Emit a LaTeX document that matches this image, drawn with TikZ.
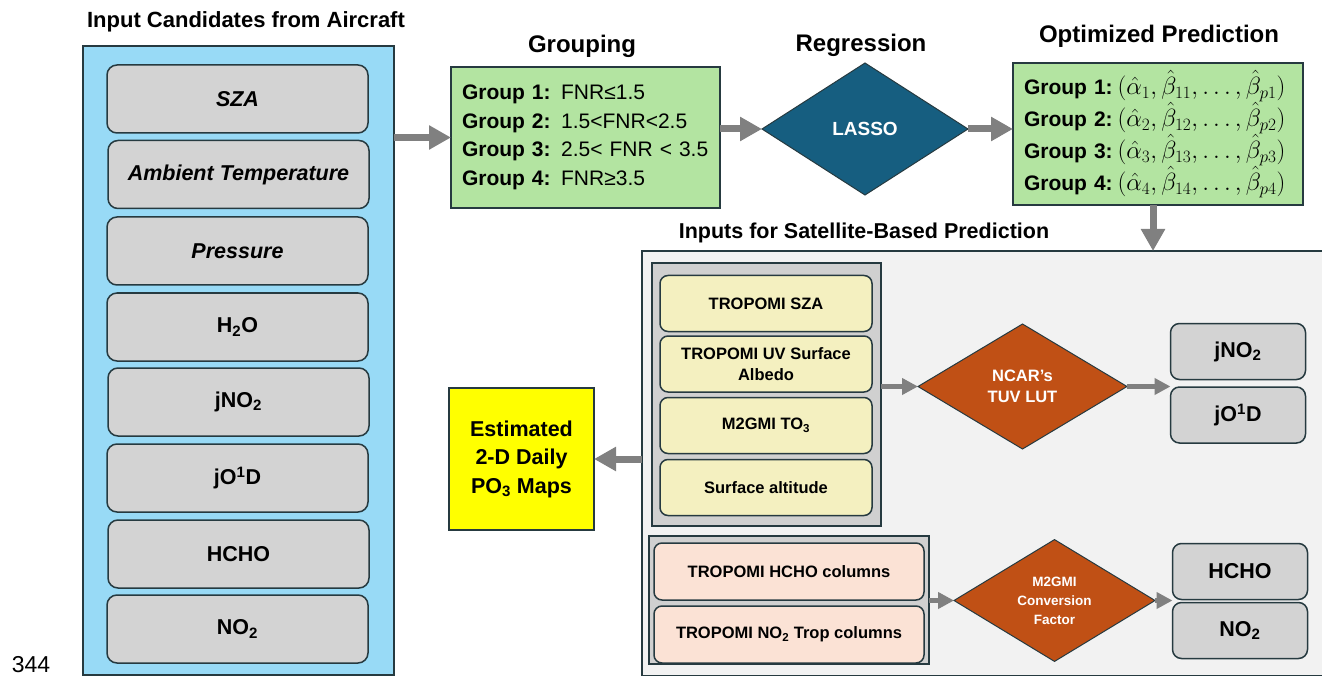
\documentclass[tikz,border=0pt]{standalone}
\usepackage[no-math]{fontspec}
\setmainfont{Liberation Sans}
\usetikzlibrary{arrows.meta,shapes.geometric}

\definecolor{edge}{RGB}{38,58,64}
\definecolor{skyfill}{RGB}{152,218,246}
\definecolor{chipgray}{RGB}{211,211,211}
\definecolor{mint}{RGB}{179,228,161}
\definecolor{lassoblue}{RGB}{22,94,128}
\definecolor{rust}{RGB}{192,80,21}
\definecolor{panelgray}{RGB}{242,242,242}
\definecolor{cream}{RGB}{244,240,192}
\definecolor{peach}{RGB}{251,226,213}
\definecolor{flow}{RGB}{128,128,128}
\definecolor{traygray}{RGB}{208,208,208}
\definecolor{mapyellow}{RGB}{255,255,0}

\newcommand\fsHead{\bfseries\fontsize{24}{28}\selectfont}
\newcommand\fsSide{\bfseries\fontsize{22}{26}\selectfont}
\newcommand\fsChip{\bfseries\fontsize{21.5}{26}\selectfont}
\newcommand\fsGroup{\fontsize{21}{28.5}\selectfont}
\newcommand\fsCoef{\fontsize{21}{32}\selectfont}
\newcommand\fsSat{\bfseries\fontsize{16.5}{21}\selectfont}
\newcommand\fsMap{\bfseries\fontsize{21.5}{28.5}\selectfont}
% one row of fitted coefficients
\newcommand\coefrow[1]{\mbox{\textbf{Group #1:}\hspace{5pt}{\fontsize{23}{32}\selectfont$(\hat{\alpha}_{#1}, \hat{\beta}_{1#1}, \dots, \hat{\beta}_{p#1})$}}}

\tikzset{
  every node/.style={inner sep=0pt, outer sep=0pt},
  frame/.style={draw=edge, line width=1.5pt},
  chip/.style={frame, fill=chipgray, rounded corners=10pt,
    minimum width=261pt, minimum height=68pt, font=\fsChip},
  result/.style={frame, fill=chipgray, rounded corners=9pt,
    minimum width=135pt, minimum height=56pt, font=\fsChip},
  satcream/.style={frame, fill=cream, rounded corners=8pt,
    minimum width=212pt, minimum height=56pt, font=\fsSat, align=center},
  satpeach/.style={frame, fill=peach, rounded corners=8pt,
    minimum width=270pt, minimum height=57pt, font=\fsSat, align=center},
  tray/.style={frame, fill=traygray},
  heading/.style={anchor=base, font=\fsHead},
  decision/.style={shape=diamond, draw=edge, line width=1pt,
    text=white, align=center},
  bigarrow/.style={draw=flow, line width=7pt,
    -{Triangle[length=22pt,width=23pt]}},
  smallarrow/.style={draw=flow, line width=5pt,
    -{Triangle[length=16pt,width=16pt]}},
}

\begin{document}
\begin{tikzpicture}[x=1pt,y=-1pt]
\useasboundingbox (0,0) rectangle (1322,676);

% ---- aircraft candidates column ----
\node[heading, font=\fsSide] (tAir) at (246,28) {Input Candidates from Aircraft};
\node[frame, fill=skyfill, minimum width=311pt, minimum height=629pt] (air) at (238.5,360.5) {};
\node[chip] (cSza)  at (237.5,99)    {\itshape SZA};
\node[chip] (cTemp) at (238.5,174.5) {\itshape Ambient Temperature};
\node[chip] (cPres) at (237.5,251)   {\itshape Pressure};
\node[chip] (cWat)  at (237.5,327)   {H\textsubscript{2}O};
\node[chip] (cJno)  at (238.5,402)   {jNO\textsubscript{2}};
\node[chip] (cJod)  at (237.5,478)   {jO\textsuperscript{1}D};
\node[chip] (cHch)  at (238.5,554)   {HCHO};
\node[chip] (cNo)   at (237.5,629)   {NO\textsubscript{2}};

\node[font=\fontsize{23}{27}\selectfont] (pageno) at (31,665) {344};

% ---- grouping / regression / prediction ----
\node[heading] (tGrp) at (582,53) {Grouping};
\node[frame, fill=mint, minimum width=269pt, minimum height=141pt,
      text width=247pt, align=left, font=\fsGroup] (grp) at (585.5,137.5)
  {\textbf{Group 1:} FNR≤1.5\\
   \textbf{Group 2:} 1.5<FNR<2.5\\
   \textbf{Group 3:} 2.5< FNR < 3.5\\
   \textbf{Group 4:} FNR≥3.5};

\node[heading] (tReg) at (861,52) {Regression};
\node[decision, fill=lassoblue, minimum width=206pt, minimum height=132pt,
      font=\bfseries\fontsize{19}{23}\selectfont] (lasso) at (865,129) {LASSO};

\node[heading] (tOpt) at (1159,43) {Optimized Prediction};
\node[frame, fill=mint, minimum width=290pt, minimum height=142pt,
      text width=268pt, align=left, font=\fsCoef] (opt) at (1158,134)
  {\coefrow{1}\\ \coefrow{2}\\ \coefrow{3}\\ \coefrow{4}};

% ---- satellite inputs panel ----
\node[heading, font=\bfseries\fontsize{21.5}{26}\selectfont] (tSat) at (864,239) {Inputs for Satellite-Based Prediction};
\node[frame, fill=panelgray, minimum width=688pt, minimum height=424.5pt] (panel) at (986,463.25) {};

\node[tray, minimum width=229pt, minimum height=263pt] (trayA) at (766.5,394.5) {};
\node[satcream] (sSza) at (766,303.5) {TROPOMI SZA};
\node[satcream] (sAlb) at (766,364)   {TROPOMI UV Surface\\Albedo};
\node[satcream] (sOz)  at (766,425.5) {M2GMI TO\textsubscript{3}};
\node[satcream] (sAlt) at (766,487.5) {Surface altitude};

\node[decision, fill=rust, minimum width=209pt, minimum height=125pt,
      font=\bfseries\fontsize{16.5}{21}\selectfont] (tuv) at (1022.5,386.5) {NCAR’s\\TUV LUT};
\node[result] (rJno) at (1238,351.5) {jNO\textsubscript{2}};
\node[result] (rJod) at (1238,415)   {jO\textsuperscript{1}D};

\node[tray, minimum width=280pt, minimum height=128pt] (trayB) at (789,600) {};
\node[satpeach] (sHch) at (789,571.5) {TROPOMI HCHO columns};
\node[satpeach] (sNo)  at (789,634.5) {TROPOMI NO\textsubscript{2} Trop columns};

\node[decision, fill=rust, minimum width=201pt, minimum height=113pt,
      font=\bfseries\fontsize{13.5}{19}\selectfont] (conv) at (1054.5,600.5) {M2GMI\\Conversion\\Factor};
\node[result] (rHch) at (1240,571.5) {HCHO};
\node[result] (rNo)  at (1240,630.5) {NO\textsubscript{2}};

% ---- output map ----
\node[frame, fill=mapyellow, minimum width=145pt, minimum height=142pt,
      align=center, font=\fsMap] (est) at (521.5,459) {Estimated\\2-D Daily\\PO\textsubscript{3} Maps};

% ---- connectors ----
\draw[bigarrow] (air.east |- grp.west) -- (grp.west);
\draw[bigarrow] (grp.east |- lasso.west) -- (lasso.west);
\draw[bigarrow] (lasso.east) -- (opt.west |- lasso.east);
\draw[bigarrow] ([xshift=-5pt]opt.south) -- ([xshift=-5pt]opt.south |- panel.north);
\draw[bigarrow] (panel.west |- est.east) -- (est.east);
\draw[smallarrow] (trayA.east |- tuv.west) -- (tuv.west);
\draw[smallarrow] (tuv.east) -- (rJno.west |- tuv.east);
\draw[smallarrow] (trayB.east |- conv.west) -- (conv.west);
\draw[smallarrow] (conv.east) -- (rHch.west |- conv.east);
\end{tikzpicture}
\end{document}
